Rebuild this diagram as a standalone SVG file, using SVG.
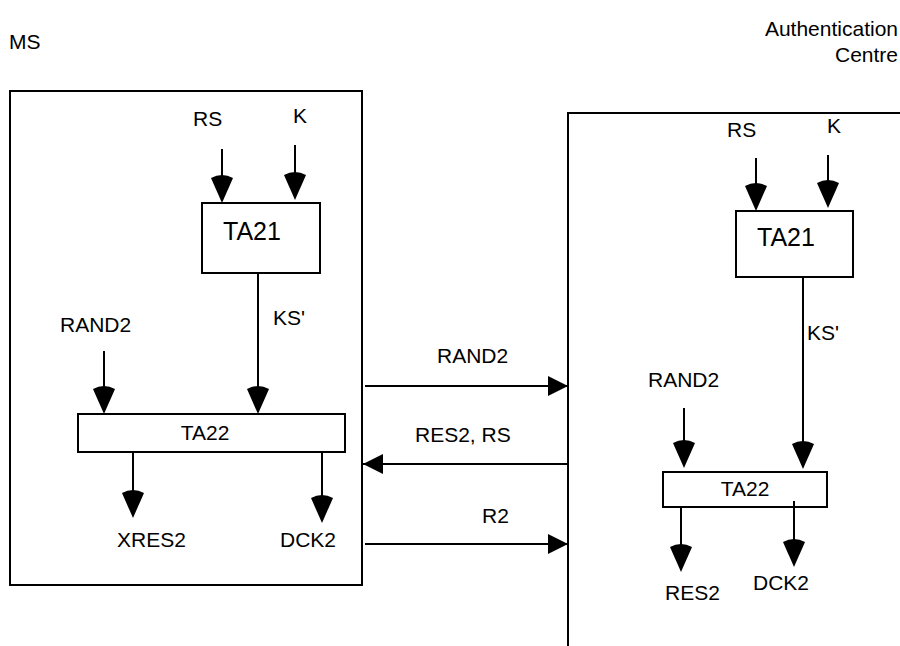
<svg xmlns="http://www.w3.org/2000/svg" width="900" height="646" viewBox="0 0 900 646">
<defs>
<style>
text{font-family:"Liberation Sans",Arial,sans-serif;font-size:21px;fill:#000}
.big{font-size:25px}
.box{fill:none;stroke:#000;stroke-width:2}
.ln{stroke:#000;stroke-width:2;fill:none}
.hd{fill:#000;stroke:none}
</style>
<path id="dn" class="hd" d="M0,0 L-11,-25 Q0,-31 11,-25 Z"/>
<marker id="ah" viewBox="0 0 20 20" refX="20" refY="10" markerWidth="20" markerHeight="20" markerUnits="userSpaceOnUse" orient="auto">
<path d="M0,0 L20,10 L0,20 Z" fill="#000"/>
</marker>
</defs>
<rect width="900" height="646" fill="#fff"/>

<g id="labels">
<text x="9" y="49">MS</text>
<text x="898" y="36" text-anchor="end">Authentication</text>
<text x="898" y="62" text-anchor="end">Centre</text>
</g>

<g id="ms-box"><rect class="box" x="10" y="91" width="352" height="494"/></g>
<g id="ac-box"><path class="box" d="M568,646 V113 H900"/></g>

<g id="ms-ta21"><rect class="box" x="202" y="203" width="118" height="70"/><text class="big" x="223" y="240">TA21</text></g>
<g id="ms-ta22"><rect class="box" x="78" y="414" width="267" height="38"/><text x="205" y="440" text-anchor="middle">TA22</text></g>
<g id="ac-ta21"><rect class="box" x="736" y="211" width="117" height="66"/><text class="big" x="757" y="246">TA21</text></g>
<g id="ac-ta22"><rect class="box" x="663" y="472" width="164" height="35"/><text x="745" y="496" text-anchor="middle">TA22</text></g>

<g id="connectors">
<!-- MS side -->
<line class="ln" x1="222" y1="149" x2="222" y2="185"/><use href="#dn" x="222" y="203"/>
<line class="ln" x1="295" y1="145" x2="295" y2="182"/><use href="#dn" x="295" y="200"/>
<line class="ln" x1="258" y1="273" x2="258" y2="396"/><use href="#dn" x="258" y="414"/>
<line class="ln" x1="104" y1="351" x2="104" y2="396"/><use href="#dn" x="104" y="414"/>
<line class="ln" x1="133" y1="452" x2="133" y2="500"/><use href="#dn" x="133" y="518"/>
<line class="ln" x1="322" y1="452" x2="322" y2="505"/><use href="#dn" x="322" y="523"/>
<!-- AC side -->
<line class="ln" x1="756" y1="158" x2="756" y2="193"/><use href="#dn" x="756" y="211"/>
<line class="ln" x1="828" y1="155" x2="828" y2="190"/><use href="#dn" x="828" y="208"/>
<line class="ln" x1="803" y1="277" x2="803" y2="450"/><use href="#dn" x="803" y="469"/>
<line class="ln" x1="684" y1="408" x2="684" y2="450"/><use href="#dn" x="684" y="468"/>
<line class="ln" x1="681" y1="507" x2="681" y2="554"/><use href="#dn" x="681" y="572"/>
<line class="ln" x1="794" y1="501" x2="794" y2="549"/><use href="#dn" x="794" y="567"/>
<!-- between -->
<line class="ln" x1="365" y1="386" x2="568" y2="386" marker-end="url(#ah)"/>
<line class="ln" x1="568" y1="464" x2="363" y2="464" marker-end="url(#ah)"/>
<line class="ln" x1="365" y1="544" x2="568" y2="544" marker-end="url(#ah)"/>
</g>

<g id="texts">
<text x="193" y="126">RS</text>
<text x="293" y="123">K</text>
<text x="273" y="325">KS'</text>
<text x="60" y="332">RAND2</text>
<text x="117" y="547">XRES2</text>
<text x="280" y="547">DCK2</text>
<text x="727" y="137">RS</text>
<text x="827" y="133">K</text>
<text x="807" y="340">KS'</text>
<text x="648" y="387">RAND2</text>
<text x="665" y="600">RES2</text>
<text x="753" y="590">DCK2</text>
<text x="437" y="363">RAND2</text>
<text x="415" y="442">RES2, RS</text>
<text x="482" y="523">R2</text>
</g>
</svg>
